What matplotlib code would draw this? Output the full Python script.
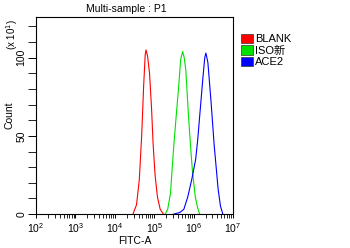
import matplotlib.pyplot as plt
from matplotlib.patches import Patch
from matplotlib.ticker import MultipleLocator, LogLocator, NullFormatter
import numpy as np

plt.rcParams['font.family'] = ['Liberation Sans', 'Noto Sans CJK SC']

# histogram outlines: log10(FITC-A) and count (x10)
blank_log = [4.46, 4.55, 4.62, 4.68, 4.73, 4.77, 4.79, 4.83, 4.88, 4.93, 4.97, 5.02, 5.08, 5.15, 5.23]
blank_cnt = [0, 6, 22, 50, 82, 102, 105, 101, 90, 68, 45, 25, 11, 3, 0]

iso_log = [5.28, 5.34, 5.41, 5.49, 5.56, 5.62, 5.67, 5.72, 5.76, 5.80, 5.87, 5.93, 5.97, 6.04, 6.10, 6.15]
iso_cnt = [0, 3, 13, 42, 64, 82, 99, 104, 100, 92, 62, 40, 27, 11, 4, 0]

ace2_log = [5.50, 5.65, 5.75, 5.85, 5.95, 6.05, 6.10, 6.17, 6.23, 6.28, 6.31, 6.36, 6.44, 6.52, 6.62, 6.68, 6.74]
ace2_cnt = [0, 1, 3, 11, 22, 35, 47, 68, 86, 100, 103, 97, 72, 44, 16, 5, 0]

series = [('BLANK', blank_log, blank_cnt, '#ff0000'),
          ('ISO新', iso_log, iso_cnt, '#00e000'),
          ('ACE2', ace2_log, ace2_cnt, '#0000ff')]

fig = plt.figure(figsize=(3.5, 2.48), dpi=100)
ax = fig.add_axes([0.103, 0.137, 0.563, 0.794])

for name, lg, cnt, col in series:
    ax.plot(10 ** np.array(lg), cnt, color=col, lw=0.8)

ax.set_xscale('log')
ax.set_xlim(1e2, 1e7)
ax.set_ylim(0, 126)
ax.yaxis.set_major_locator(MultipleLocator(50))
ax.yaxis.set_minor_locator(MultipleLocator(10))
ax.xaxis.set_major_locator(LogLocator(base=10, numticks=10))
ax.xaxis.set_minor_locator(LogLocator(base=10, subs=np.arange(2, 10), numticks=20))
ax.xaxis.set_minor_formatter(NullFormatter())

ax.tick_params(axis='both', which='major', length=3, width=0.7, labelsize=7.5, pad=2)
ax.tick_params(axis='both', which='minor', length=3, width=0.6)
ax.tick_params(axis='y', which='both', length=6, pad=1)
for lbl in ax.get_yticklabels():
    lbl.set_rotation(90)
    lbl.set_va('center')
for s in ax.spines.values():
    s.set_linewidth(0.8)

ax.set_title('Multi-sample : P1', fontsize=7.5, pad=4, x=0.46)
ax.set_xlabel('FITC-A', fontsize=7.5, labelpad=1)
ax.set_ylabel('Count', fontsize=7.5, labelpad=1)
fig.text(0.035, 0.86, '(x 10$^1$)', rotation=90, fontsize=7, ha='center', va='center')

handles = [Patch(facecolor=c, edgecolor='#333333', lw=0.5, label=n) for n, _, _, c in series]
ax.legend(handles=handles, loc='upper left', bbox_to_anchor=(1.04, 0.915), frameon=False,
          fontsize=8, handlelength=1.05, handleheight=0.9, handletextpad=0.25,
          labelspacing=0.1, borderaxespad=0, borderpad=0)

fig.savefig('out.png', dpi=100)
